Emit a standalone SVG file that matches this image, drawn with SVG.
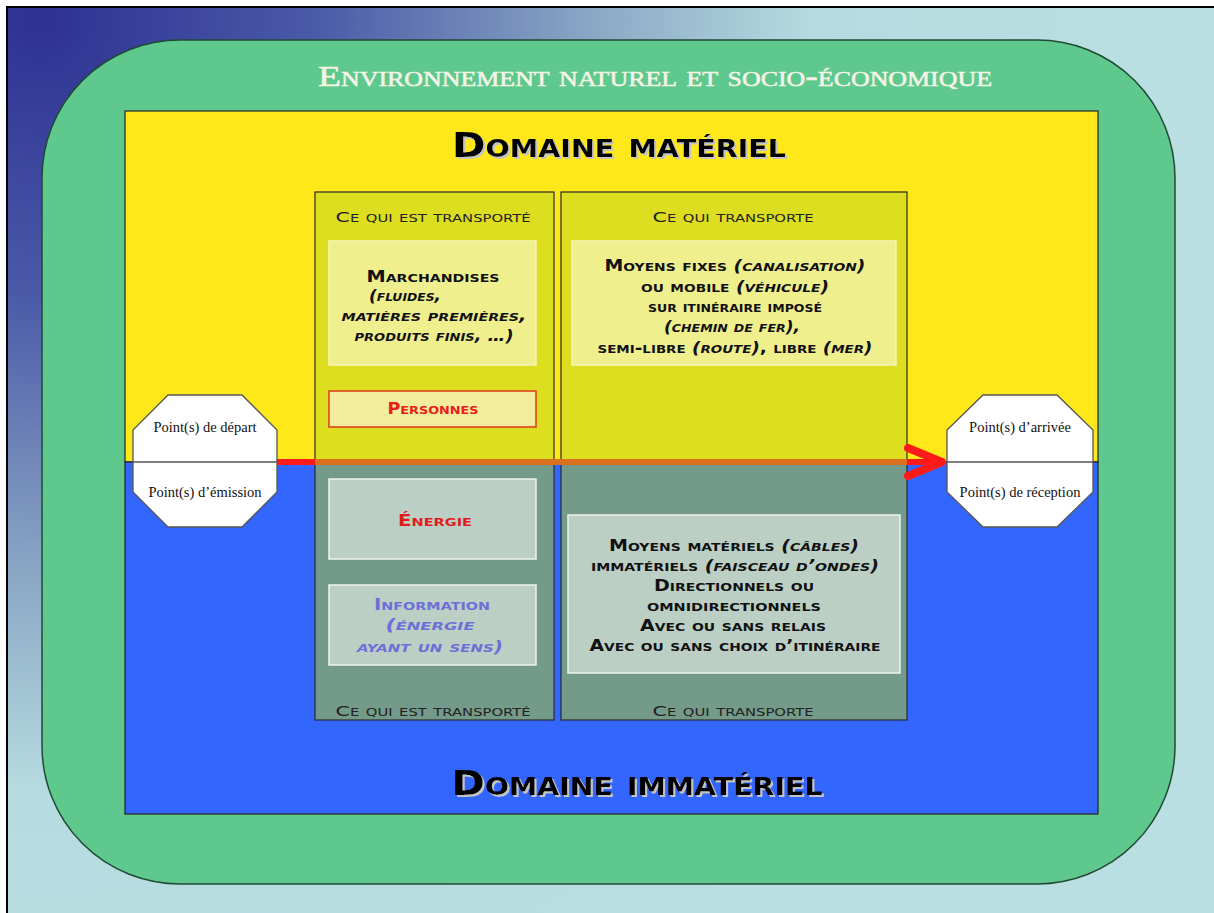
<svg xmlns="http://www.w3.org/2000/svg" width="1214" height="913" viewBox="0 0 1214 913">
<defs>
  <radialGradient id="bg" gradientUnits="userSpaceOnUse" cx="40" cy="20" r="1100">
    <stop offset="0" stop-color="#2d3192"/>
    <stop offset="0.25" stop-color="#4a5aa8"/>
    <stop offset="0.5" stop-color="#8aa6c4"/>
    <stop offset="0.7" stop-color="#b6dbe0"/>
    <stop offset="1" stop-color="#badfe2"/>
  </radialGradient>
  <linearGradient id="arrowcol" gradientUnits="userSpaceOnUse" x1="0" y1="0" x2="1214" y2="0">
    <stop offset="0" stop-color="#ff1a1a"/>
    <stop offset="0.2595" stop-color="#ff1a1a"/>
    <stop offset="0.2595" stop-color="#d8701e"/>
    <stop offset="0.747" stop-color="#d8701e"/>
    <stop offset="0.747" stop-color="#ff1a1a"/>
    <stop offset="1" stop-color="#ff1a1a"/>
  </linearGradient>
  <marker id="head" markerUnits="userSpaceOnUse" viewBox="0 0 44 36" markerWidth="44" markerHeight="36" refX="40" refY="18" orient="auto">
    <path d="M5,4 L39,18 L5,32" fill="none" stroke="#ff1a1a" stroke-width="8" stroke-linecap="round" stroke-linejoin="round"/>
  </marker>
  <filter id="shadow" x="-5%" y="-20%" width="110%" height="150%">
    <feDropShadow dx="2" dy="2" stdDeviation="0" flood-color="#c4c4c4" flood-opacity="1"/>
  </filter>
  <style>
    .env { font-family: "Liberation Serif", serif; font-variant: small-caps; font-size: 29px; fill: #f4f4e6; stroke: #f4f4e6; stroke-width: 0.5; }
    .dom { font-family: "DejaVu Sans", sans-serif; font-variant: small-caps; font-weight: bold; font-size: 34px; fill: #000; }
    .hdr { font-family: "DejaVu Sans", sans-serif; font-variant: small-caps; font-size: 14px; fill: #222; }
    .bx { font-family: "DejaVu Sans", sans-serif; font-variant: small-caps; font-weight: bold; font-size: 15px; fill: #111; }
    .it { font-style: italic; }
    .pt { font-family: "Liberation Serif", serif; font-size: 14.5px; fill: #111; }
    .col { stroke: none; }
    .colout { fill: none; stroke: #2a2a2a; stroke-width: 1.2; }
    .ybox { fill: #efef8e; stroke: #f6f6b8; stroke-width: 1.5; }
    .gbox { fill: #bccfc5; stroke: #eef4f0; stroke-width: 1.5; }
    .oct { fill: #ffffff; stroke: #555555; stroke-width: 1.3; }
  </style>
</defs>

<g id="background">
  <rect x="0" y="0" width="1214" height="913" fill="#ffffff"/>
  <rect x="7" y="7" width="1220" height="920" fill="url(#bg)" stroke="#000" stroke-width="2"/>
</g>

<g id="environnement">
  <rect x="42" y="40" width="1133" height="844" rx="138" ry="138" fill="#5ec88d" stroke="#1f4a34" stroke-width="1.5"/>
  <text class="env" x="655" y="86" text-anchor="middle" textLength="674" lengthAdjust="spacingAndGlyphs">Environnement naturel et socio-économique</text>
</g>

<g id="domaine-materiel">
  <rect x="125" y="111" width="973" height="351" fill="#ffe81a" stroke="#222" stroke-width="1.2"/>
  <text class="dom" x="619" y="157" text-anchor="middle" textLength="334" lengthAdjust="spacingAndGlyphs" filter="url(#shadow)">Domaine matériel</text>
</g>

<g id="domaine-immateriel">
  <rect x="125" y="462" width="973" height="352" fill="#3366ff" stroke="#222" stroke-width="1.2"/>
  <text class="dom" x="637" y="795" text-anchor="middle" textLength="371" lengthAdjust="spacingAndGlyphs" filter="url(#shadow)">Domaine immatériel</text>
</g>

<g id="colonne-transporte">
  <rect class="col" x="315" y="192" width="239" height="270" fill="#dede20"/>
  <rect class="col" x="315" y="462" width="239" height="258" fill="#749a89"/>
  <rect class="colout" x="315" y="192" width="239" height="528"/>
  <text class="hdr" x="433" y="222" text-anchor="middle" textLength="195" lengthAdjust="spacingAndGlyphs">Ce qui est transporté</text>
  <text class="hdr" x="433" y="716" text-anchor="middle" textLength="195" lengthAdjust="spacingAndGlyphs">Ce qui est transporté</text>
</g>

<g id="colonne-transporteur">
  <rect class="col" x="561" y="192" width="346" height="270" fill="#dede20"/>
  <rect class="col" x="561" y="462" width="346" height="258" fill="#749a89"/>
  <rect class="colout" x="561" y="192" width="346" height="528"/>
  <text class="hdr" x="733" y="222" text-anchor="middle" textLength="161" lengthAdjust="spacingAndGlyphs">Ce qui transporte</text>
  <text class="hdr" x="733" y="716" text-anchor="middle" textLength="161" lengthAdjust="spacingAndGlyphs">Ce qui transporte</text>
</g>

<g id="connecteurs">
  <path d="M277,462 L943,462" fill="none" stroke="url(#arrowcol)" stroke-width="6" marker-end="url(#head)"/>
</g>

<g id="marchandises">
  <rect class="ybox" x="329" y="241" width="207" height="124"/>
  <text class="bx" x="433" y="282" text-anchor="middle" textLength="133" lengthAdjust="spacingAndGlyphs">Marchandises</text>
  <text class="bx it" x="405" y="301" text-anchor="middle" textLength="72" lengthAdjust="spacingAndGlyphs">(fluides,</text>
  <text class="bx it" x="434" y="321" text-anchor="middle" textLength="185" lengthAdjust="spacingAndGlyphs">matières premières,</text>
  <text class="bx it" x="434" y="341" text-anchor="middle" textLength="159" lengthAdjust="spacingAndGlyphs">produits finis, …)</text>
</g>

<g id="personnes">
  <rect x="329" y="391" width="207" height="36" fill="#f2ec9c" stroke="#e03a1a" stroke-width="1.5"/>
  <text class="bx" x="433" y="414" text-anchor="middle" textLength="91" lengthAdjust="spacingAndGlyphs" style="fill:#e8201a">Personnes</text>
</g>

<g id="energie">
  <rect class="gbox" x="329" y="479" width="207" height="80"/>
  <text class="bx" x="435" y="526" text-anchor="middle" textLength="74" lengthAdjust="spacingAndGlyphs" style="fill:#e21c1c">Énergie</text>
</g>

<g id="information">
  <rect class="gbox" x="329" y="585" width="207" height="80"/>
  <text class="bx" x="432" y="610" text-anchor="middle" textLength="116" lengthAdjust="spacingAndGlyphs" style="fill:#6e6ed8">Information</text>
  <text class="bx it" x="430" y="630" text-anchor="middle" textLength="89" lengthAdjust="spacingAndGlyphs" style="fill:#6e6ed8">(énergie</text>
  <text class="bx it" x="430" y="652" text-anchor="middle" textLength="146" lengthAdjust="spacingAndGlyphs" style="fill:#6e6ed8">ayant un sens)</text>
</g>

<g id="moyens-materiels">
  <rect class="ybox" x="572" y="241" width="324" height="124"/>
  <text class="bx" x="735" y="271" text-anchor="middle" textLength="261" lengthAdjust="spacingAndGlyphs">Moyens fixes <tspan class="it">(canalisation)</tspan></text>
  <text class="bx" x="735" y="292" text-anchor="middle" textLength="188" lengthAdjust="spacingAndGlyphs">ou mobile <tspan class="it">(véhicule)</tspan></text>
  <text class="bx" x="735" y="312" text-anchor="middle" textLength="174" lengthAdjust="spacingAndGlyphs">sur itinéraire imposé</text>
  <text class="bx it" x="732" y="332" text-anchor="middle" textLength="136" lengthAdjust="spacingAndGlyphs">(chemin de fer),</text>
  <text class="bx" x="735" y="353" text-anchor="middle" textLength="275" lengthAdjust="spacingAndGlyphs">semi-libre <tspan class="it">(route)</tspan>, libre <tspan class="it">(mer)</tspan></text>
</g>

<g id="moyens-immateriels">
  <rect class="gbox" x="568" y="515" width="332" height="158"/>
  <text class="bx" x="734" y="551" text-anchor="middle" textLength="250" lengthAdjust="spacingAndGlyphs">Moyens matériels <tspan class="it">(câbles)</tspan></text>
  <text class="bx" x="735" y="571" text-anchor="middle" textLength="288" lengthAdjust="spacingAndGlyphs">immatériels <tspan class="it">(faisceau d’ondes)</tspan></text>
  <text class="bx" x="734" y="591" text-anchor="middle" textLength="160" lengthAdjust="spacingAndGlyphs">Directionnels ou</text>
  <text class="bx" x="734" y="611" text-anchor="middle" textLength="174" lengthAdjust="spacingAndGlyphs">omnidirectionnels</text>
  <text class="bx" x="733" y="631" text-anchor="middle" textLength="186" lengthAdjust="spacingAndGlyphs">Avec ou sans relais</text>
  <text class="bx" x="735" y="651" text-anchor="middle" textLength="291" lengthAdjust="spacingAndGlyphs">Avec ou sans choix d’itinéraire</text>
</g>

<g id="point-depart">
  <polygon class="oct" points="168,395 242,395 277,430 277,492 242,527 168,527 133,492 133,430"/>
  <line x1="133" y1="462" x2="277" y2="462" stroke="#555" stroke-width="1.3"/>
  <text class="pt" x="205" y="432" text-anchor="middle">Point(s) de départ</text>
  <text class="pt" x="205" y="497" text-anchor="middle">Point(s) d’émission</text>
</g>

<g id="point-arrivee">
  <polygon class="oct" points="983,395 1057,395 1093,430 1093,492 1057,527 983,527 947,492 947,430"/>
  <line x1="947" y1="462" x2="1093" y2="462" stroke="#555" stroke-width="1.3"/>
  <text class="pt" x="1020" y="432" text-anchor="middle">Point(s) d’arrivée</text>
  <text class="pt" x="1020" y="497" text-anchor="middle">Point(s) de réception</text>
</g>
</svg>
